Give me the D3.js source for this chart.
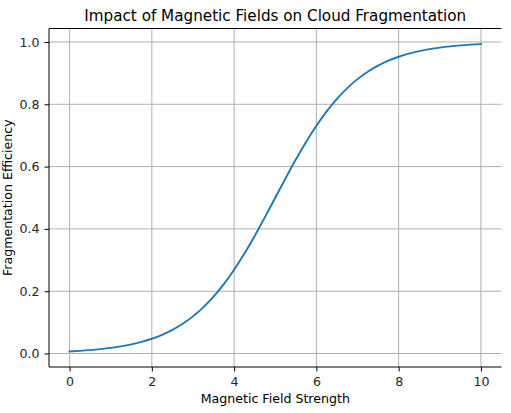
<!DOCTYPE html>
<html>
<head>
<meta charset="utf-8">
<script src="https://cdn.jsdelivr.net/npm/d3@7"></script>
<style>
  html, body { margin: 0; padding: 0; background: #fff; }
  svg { display: block; font-family: "DejaVu Sans", sans-serif; }
</style>
</head>
<body>
<svg id="chart" width="511" height="413"></svg>
<script>
// Data
const fieldStrength = [0, 0.25, 0.5, 0.75, 1, 1.25, 1.5, 1.75, 2, 2.25, 2.5, 2.75, 3, 3.25, 3.5, 3.75, 4, 4.25, 4.5, 4.75, 5,
  5.25, 5.5, 5.75, 6, 6.25, 6.5, 6.75, 7, 7.25, 7.5, 7.75, 8, 8.25, 8.5, 8.75, 9, 9.25, 9.5, 9.75, 10];
const efficiency = [0.0067, 0.0086, 0.0110, 0.0141, 0.0180, 0.0230, 0.0293, 0.0373, 0.0474, 0.0601, 0.0759, 0.0954, 0.1192, 0.1480, 0.1824, 0.2227, 0.2689, 0.3208, 0.3775, 0.4378, 0.5000,
  0.5622, 0.6225, 0.6792, 0.7311, 0.7773, 0.8176, 0.8520, 0.8808, 0.9047, 0.9241, 0.9399, 0.9526, 0.9627, 0.9707, 0.9770, 0.9820, 0.9859, 0.9890, 0.9914, 0.9933];
const xTicks = [0, 2, 4, 6, 8, 10];
const yTicks = [0.0, 0.2, 0.4, 0.6, 0.8, 1.0];
const titleText = "Impact of Magnetic Fields on Cloud Fragmentation";
const xLabelText = "Magnetic Field Strength";
const yLabelText = "Fragmentation Efficiency";

const svg = d3.select("#chart");
const pLeft = 49, pRight = 501.5, pTop = 28.5, pBottom = 367;

const x = d3.scaleLinear().domain([-0.5, 10.5]).range([pLeft, pRight]);
const y = d3.scaleLinear().domain([-0.0433, 1.0433]).range([pBottom, pTop]);

// grid
const g = svg.append("g");
g.selectAll("line.vg").data(xTicks).enter().append("line")
  .attr("x1", d => x(d)).attr("x2", d => x(d))
  .attr("y1", pTop).attr("y2", pBottom)
  .attr("stroke", "#b0b0b0").attr("stroke-width", 1.0);
g.selectAll("line.hg").data(yTicks).enter().append("line")
  .attr("x1", pLeft).attr("x2", pRight)
  .attr("y1", d => y(d)).attr("y2", d => y(d))
  .attr("stroke", "#b0b0b0").attr("stroke-width", 1.0);

// line
const pts = fieldStrength.map((v, i) => [v, efficiency[i]]);
svg.append("path").datum(pts)
  .attr("fill", "none")
  .attr("stroke", "#1f77b4")
  .attr("stroke-width", 1.9)
  .attr("stroke-linejoin", "round")
  .attr("stroke-linecap", "square")
  .attr("d", d3.line().x(d => x(d[0])).y(d => y(d[1])).curve(d3.curveMonotoneX));

// axes
const xAxis = d3.axisBottom(x).tickValues(xTicks).tickFormat(d3.format("d")).tickSize(4.5).tickPadding(5.5);
const yAxis = d3.axisLeft(y).tickValues(yTicks).tickFormat(d3.format(".1f")).tickSize(4.5).tickPadding(5);

const gx = svg.append("g").attr("transform", `translate(0,${pBottom})`).call(xAxis);
const gy = svg.append("g").attr("transform", `translate(${pLeft},0)`).call(yAxis);
[gx, gy].forEach(a => {
  a.select(".domain").remove();
  a.selectAll(".tick line").attr("stroke", "#000").attr("stroke-width", 1.0);
  a.selectAll(".tick text").attr("fill", "#262626").style("font-size", "12.6px").style("font-family", "DejaVu Sans");
});

// spines
svg.append("line").attr("x1", pLeft).attr("x2", pLeft).attr("y1", pTop).attr("y2", pBottom)
  .attr("stroke", "#000").attr("stroke-width", 1.0);
svg.append("line").attr("x1", pLeft).attr("x2", pRight).attr("y1", pBottom).attr("y2", pBottom)
  .attr("stroke", "#000").attr("stroke-width", 1.0);
svg.append("line").attr("x1", pLeft).attr("x2", pRight).attr("y1", pTop).attr("y2", pTop)
  .attr("stroke", "#000").attr("stroke-width", 1.0);

// title and labels
svg.append("text").attr("x", (pLeft + pRight) / 2).attr("y", 20.5)
  .attr("text-anchor", "middle").style("font-size", "15.2px").attr("fill", "#000")
  .text(titleText);
svg.append("text").attr("x", (pLeft + pRight) / 2).attr("y", 403)
  .attr("text-anchor", "middle").style("font-size", "12.6px").attr("fill", "#000")
  .text(xLabelText);
svg.append("text")
  .attr("transform", `translate(12,${(pTop + pBottom) / 2}) rotate(-90)`)
  .attr("text-anchor", "middle").style("font-size", "12.6px").attr("fill", "#000")
  .text(yLabelText);
</script>
</body>
</html>
